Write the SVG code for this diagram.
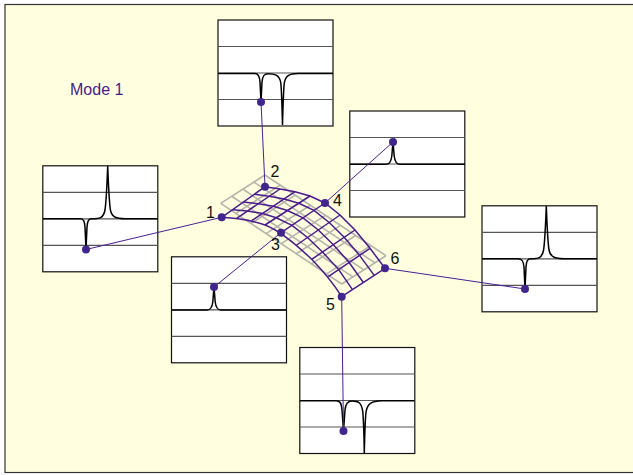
<svg xmlns="http://www.w3.org/2000/svg" width="633" height="475" viewBox="0 0 633 475">
<style>
.plot{fill:#fff;stroke:#111;stroke-width:1.2}
.rule{stroke:#555;stroke-width:1.2;fill:none}
.curve{stroke:#000;stroke-width:1.5;fill:none}
.dot{fill:#41258c}
.conn{stroke:#4b1e96;stroke-width:1;fill:none}
.flat{stroke:#b4b4aa;stroke-width:1.6;fill:none;vector-effect:non-scaling-stroke}
.mesh{stroke:#4b1a8c;stroke-width:1.5;fill:none}
.lbl{font-family:"Liberation Sans",Arial,sans-serif;font-size:16px;fill:#111;text-anchor:middle}
.title{font-family:"Liberation Sans",Arial,sans-serif;font-size:16px;fill:#4b1a8c}
</style>
<defs>
<g id="frame">
<rect class="plot" x="0" y="0" width="115" height="106"/>
<path class="rule" d="M0 26.500H115M0 53H115M0 79.500H115"/>
</g>
</defs>
<rect width="633" height="475" fill="#fff"/>
<rect x="5" y="4.500" width="640" height="468" fill="#ffffe0" stroke="#333" stroke-width="1.2"/>
<text class="title" x="70" y="95">Mode 1</text>

<g id="surface-rest">
<path class="flat" transform="matrix(15.125 10.09 11.075 -7.075 220.7 203.3)" d="M0 0H8M0 1H8M0 2H8M0 3H8M0 4H8M0 0V4M1 0V4M2 0V4M3 0V4M4 0V4M5 0V4M6 0V4M7 0V4M8 0V4"/>
</g>
<g id="surface-deformed">
<path class="mesh" d="M221.700 217.300C236 218 251 220 265 225C281 231 296.700 245 311.700 259.300C322 270 332 281 341.700 296.700"/>
<path class="mesh" d="M232.500 209.650L247.500 211L262.500 213.450L276.250 217.750L292 225.300L307.500 237.500L322.500 252L338.700 269.600L352.500 289.600"/>
<path class="mesh" d="M243.350 202L258.350 203.650L273.350 206.200L287.500 210.500L303 217.850L318.350 230L333.350 244.650L349.150 262.500L363.350 282.500"/>
<path class="mesh" d="M254.200 194.350L269.200 196.300L284.200 198.950L298.750 203.250L314 210.400L329.200 222.500L344.200 237.300L359.600 255.400L374.200 275.400"/>
<path class="mesh" d="M265 186.700L280 189L295 191.700L310 196L325 203L340 215L355 230L370 248.300L385 268.300"/>
<path class="mesh" d="M221.700 217.300L265 186.700M236.700 218.300L280 189M251.700 220.700L295 191.700M265 225L310 196M281 232.700L325 203M296.700 245L340 215M311.700 259.300L355 230M328.300 276.700L370 248.300M341.700 296.700L385 268.300"/>
</g>

<g id="plot-1">
<use href="#frame" x="42.800" y="165.800"/>
<path class="curve" d="M43 218.800H80C83.500 218.800 84.600 221 85 227L86 249L87 227C87.400 221 88.500 218.800 92 218.800C99 218.800 103.500 218.500 105 210C106 203 106.800 190 107.700 166C108.600 190 109.400 203 110.400 210C112 218 117 218.500 125 218.800H158"/>
</g>
<g id="plot-2">
<use href="#frame" x="218" y="20"/>
<path class="curve" d="M218 73.500H255C258.500 73.500 259.600 76 260 82L261 102L262 82C262.500 76 264 73.800 268 73.800C274 73.800 279.500 74.500 280.800 83C281.600 90 282 105 282.500 125C283 105 283.500 90 284.300 83C285.500 75 290 73.800 298 73.500H333"/>
</g>
<g id="plot-3">
<use href="#frame" x="171.500" y="256.800"/>
<path class="curve" d="M171.500 310H207C211 310 212.200 307 212.800 302L214 287L215.200 302C215.800 307 217 310 221 310H286.500"/>
</g>
<g id="plot-4">
<use href="#frame" x="349.800" y="111"/>
<path class="curve" d="M350 164.300H386C390 164.300 391.200 161 391.800 156L393 142L394.200 156C394.800 161 396 164.300 400 164.300H465"/>
</g>
<g id="plot-5">
<use href="#frame" x="299.800" y="347.500"/>
<path class="curve" d="M300 400.700H336C340 400.700 341.500 403 342 410L343.500 431L345 410C345.500 404 347.500 401 352 401C358 401 361.500 402 362.800 412C363.500 420 364 435 364.300 453C364.700 435 365.200 420 366 412C367.500 403 372 401 382 400.700H414.500"/>
</g>
<g id="plot-6">
<use href="#frame" x="482" y="205.800"/>
<path class="curve" d="M482 258.800H518C522 258.800 523.500 261 524 267L525 289L526 267C526.400 261 527.500 258.800 531 258.800C538 258.800 542 258.500 543.600 250C544.600 243 545.400 230 546.300 206C547.200 230 548 243 549 250C550.500 258 556 258.500 564 258.800H597"/>
</g>

<g id="connectors">
<path class="conn" d="M221.700 217.300L86 249.500M265 186.700L261 102M281 232.700L214 287M325 203L393 142M341.700 296.700L343.500 431M385 268.300L525 289"/>
</g>

<g id="point-1"><circle class="dot" cx="221.700" cy="217.300" r="4"/><circle class="dot" cx="86" cy="249.500" r="4"/><text class="lbl" x="210.500" y="217.500">1</text></g>
<g id="point-2"><circle class="dot" cx="265" cy="186.700" r="4"/><circle class="dot" cx="261" cy="102" r="4"/><text class="lbl" x="275" y="177">2</text></g>
<g id="point-3"><circle class="dot" cx="281" cy="232.700" r="4"/><circle class="dot" cx="214" cy="287" r="4"/><text class="lbl" x="275.500" y="250">3</text></g>
<g id="point-4"><circle class="dot" cx="325" cy="203" r="4"/><circle class="dot" cx="393" cy="142" r="4"/><text class="lbl" x="337.500" y="206">4</text></g>
<g id="point-5"><circle class="dot" cx="341.700" cy="296.700" r="4"/><circle class="dot" cx="343.500" cy="431" r="4"/><text class="lbl" x="330.500" y="310">5</text></g>
<g id="point-6"><circle class="dot" cx="385" cy="268.300" r="4"/><circle class="dot" cx="525" cy="289" r="4"/><text class="lbl" x="395" y="264">6</text></g>
</svg>
